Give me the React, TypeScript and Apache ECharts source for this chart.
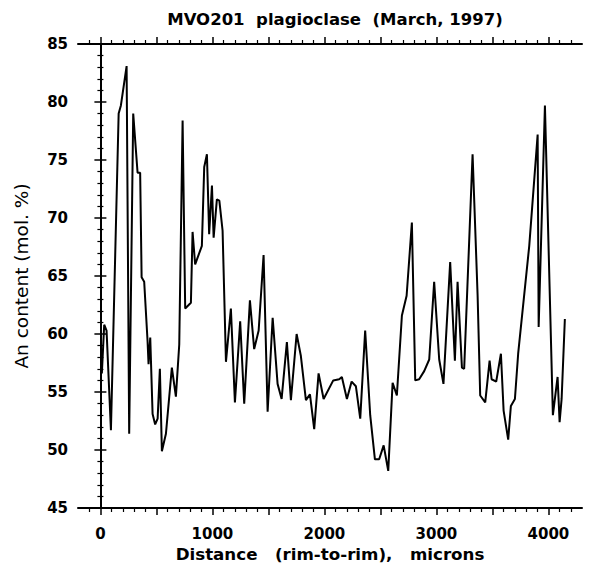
import React, { useEffect, useRef } from "react";
import * as echarts from "echarts";

const distance = [
  13, 34, 55, 94, 163, 183, 234, 257, 293, 332, 355, 368, 391, 421, 430, 445, 466, 489, 511, 531,
  549, 585, 638, 674, 704, 734, 757, 808, 823, 846, 906, 927, 951, 971, 996, 1011, 1040, 1062, 1091, 1121,
  1165, 1201, 1248, 1284, 1335, 1373, 1413, 1457, 1493, 1538, 1582, 1618, 1665, 1701, 1752, 1790, 1835, 1871, 1909, 1948,
  1993, 2079, 2132, 2156, 2201, 2243, 2281, 2320, 2364, 2409, 2451, 2489, 2529, 2570, 2609, 2647, 2692, 2734, 2781, 2811,
  2846, 2891, 2936, 2980, 3025, 3063, 3123, 3165, 3189, 3228, 3248, 3323, 3368, 3391, 3436, 3475, 3493, 3534, 3576, 3600,
  3641, 3665, 3701, 3730, 3829, 3904, 3913, 3969, 4040, 4082, 4100, 4118, 4147,
];

const anContent = [
  56.6, 60.8, 60.3, 51.7, 79.0, 79.7, 83.1, 51.4, 79.0, 73.9, 73.9, 64.9, 64.5, 59.4, 57.4, 59.7, 53.1, 52.2, 52.7, 57.0,
  49.9, 51.4, 57.1, 54.6, 59.1, 78.4, 62.2, 62.7, 68.8, 66.0, 67.6, 74.4, 75.5, 68.6, 72.8, 68.3, 71.6, 71.5, 68.9, 57.6,
  62.2, 54.1, 61.1, 54.0, 62.9, 58.7, 60.3, 66.8, 53.3, 61.4, 55.7, 54.4, 59.3, 54.3, 60.0, 58.1, 54.3, 54.8, 51.8, 56.6,
  54.4, 56.0, 56.1, 56.3, 54.4, 55.9, 55.5, 52.7, 60.3, 53.0, 49.2, 49.2, 50.4, 48.2, 55.8, 54.7, 61.6, 63.3, 69.6, 56.0,
  56.1, 56.8, 57.8, 64.5, 57.8, 55.7, 66.2, 57.7, 64.5, 57.1, 57.0, 75.5, 63.3, 54.7, 54.1, 57.7, 56.1, 55.9, 58.3, 53.4,
  50.9, 53.8, 54.4, 58.3, 67.6, 77.2, 60.6, 79.7, 53.0, 56.3, 52.4, 54.4, 61.3,
];

const xLabelValues = [0, 1000, 2000, 3000, 4000];
const xMajorTicks = [0, 500, 1000, 1500, 2000, 2500, 3000, 3500, 4000];
const xMinorTicks = [
  -100, 100, 200, 300, 400, 600, 700, 800, 900, 1100, 1200, 1300, 1400, 1600, 1700, 1800, 1900,
  2100, 2200, 2300, 2400, 2600, 2700, 2800, 2900, 3100, 3200, 3300, 3400, 3600, 3700, 3800, 3900, 4100, 4200,
];

const FONT = "DejaVu Sans";

export default function App() {
  const ref = useRef<HTMLDivElement>(null);
  useEffect(() => {
    if (!ref.current) return;
    const chart = echarts.init(ref.current, null, { renderer: "svg" });
    const data = distance.map((d, i) => [d, anContent[i]]);
    const axisLine = { show: true, lineStyle: { color: "#000", width: 2 } };
    const labelStyle = { color: "#000", fontFamily: FONT, fontWeight: "bold" as const, fontSize: 15 };
    const xBase = (position: "top" | "bottom") => ({
      type: "value" as const,
      min: -200,
      max: 4300,
      position,
      gridIndex: 0,
      splitLine: { show: false },
    });
    chart.setOption({
      animation: false,
      backgroundColor: "#fff",
      title: {
        text: "MVO201  plagioclase  (March, 1997)",
        left: 330,
        textAlign: "center",
        top: 6,
        textStyle: { color: "#000", fontFamily: FONT, fontWeight: "bold", fontSize: 16.5 },
      },
      grid: { left: 78, right: 11, top: 44, bottom: 63, containLabel: false, outerBoundsMode: "none" },
      xAxis: [
        {
          ...xBase("bottom"),
          axisLine,
          axisTick: { show: true, customValues: xMajorTicks, length: 7, lineStyle: { color: "#000", width: 1.5 } },
          axisLabel: {
            show: true,
            customValues: xLabelValues,
            margin: 18,
            formatter: (v: number) => String(v),
            ...labelStyle,
          },
          name: "Distance   (rim-to-rim),   microns",
          nameLocation: "middle",
          nameGap: 37,
          nameTextStyle: { ...labelStyle, fontSize: 16.7 },
        },
        {
          ...xBase("bottom"),
          axisLine: { show: false },
          axisTick: { show: true, customValues: xMinorTicks, length: 4, lineStyle: { color: "#000", width: 1.2 } },
          axisLabel: { show: false },
        },
        {
          ...xBase("top"),
          axisLine,
          axisTick: { show: true, customValues: xMajorTicks, length: 7, lineStyle: { color: "#000", width: 1.5 } },
          axisLabel: { show: false },
        },
        {
          ...xBase("top"),
          axisLine: { show: false },
          axisTick: { show: true, customValues: xMinorTicks, length: 4, lineStyle: { color: "#000", width: 1.2 } },
          axisLabel: { show: false },
        },
      ],
      yAxis: [
        {
          type: "value",
          min: 45,
          max: 85,
          interval: 5,
          position: "left",
          axisLine,
          axisTick: { show: true, length: 6, lineStyle: { color: "#000", width: 1.5 } },
          minorTick: { show: true, splitNumber: 5, length: 3, lineStyle: { color: "#000", width: 1.2 } },
          axisLabel: { margin: 10, ...labelStyle },
          splitLine: { show: false },
          minorSplitLine: { show: false },
          name: "An content (mol. %)",
          nameLocation: "middle",
          nameGap: 47,
          nameTextStyle: { color: "#000", fontFamily: FONT, fontSize: 18.5 },
        },
        {
          type: "value",
          min: 45,
          max: 85,
          interval: 5,
          position: "right",
          axisLine,
          axisTick: { show: true, length: 6, lineStyle: { color: "#000", width: 1.5 } },
          minorTick: { show: true, splitNumber: 5, length: 3, lineStyle: { color: "#000", width: 1.2 } },
          axisLabel: { show: false },
          splitLine: { show: false },
          minorSplitLine: { show: false },
        },
      ],
      series: [
        {
          type: "line",
          xAxisIndex: 0,
          yAxisIndex: 0,
          data,
          showSymbol: false,
          symbol: "none",
          lineStyle: { color: "#000", width: 2 },
        },
      ],
    });
    return () => chart.dispose();
  }, []);
  return (
    <div
      ref={ref}
      style={{ position: "fixed", left: 0, top: 0, width: 593, height: 571, background: "#fff" }}
    />
  );
}
